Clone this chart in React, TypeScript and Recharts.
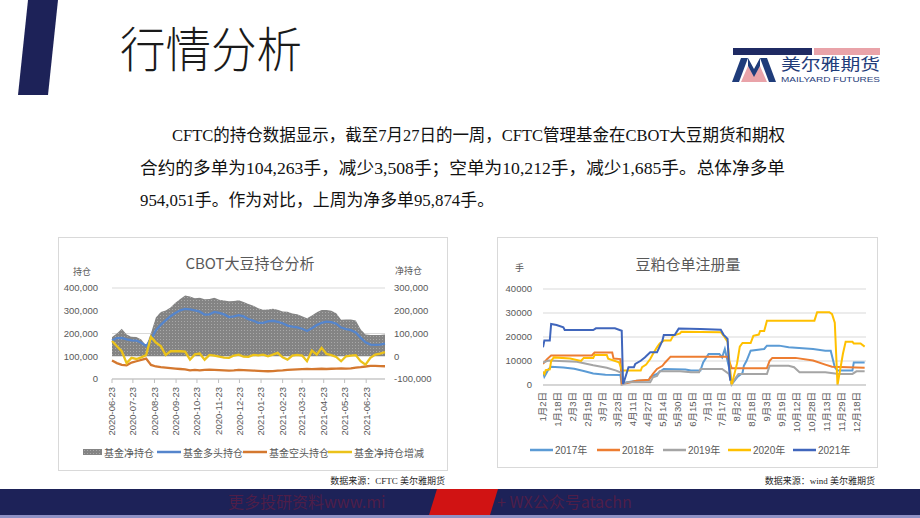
import React from "react";
import {
  ComposedChart,
  LineChart,
  Line,
  Area,
  XAxis,
  YAxis,
  CartesianGrid,
} from "recharts";

const CHART_FONT = '"Liberation Sans", "Noto Sans CJK SC", sans-serif';
const CJK_FONT = '"Noto Sans CJK SC", sans-serif';
const SERIF_FONT = '"Liberation Serif", "Noto Sans CJK SC", serif';
const AXIS_GRAY = "#595959";
const GRID = "#D9D9D9";
const NAVY = "#1D2258";

// ---- CBOT soybean positions (weekly, CFTC) ----
const weekDates = [
  "2020-06-23", "2020-06-30", "2020-07-07", "2020-07-14", "2020-07-21", "2020-07-28",
  "2020-08-04", "2020-08-11", "2020-08-18", "2020-08-25", "2020-09-01", "2020-09-08",
  "2020-09-15", "2020-09-22", "2020-09-29", "2020-10-06", "2020-10-13", "2020-10-20",
  "2020-10-27", "2020-11-03", "2020-11-10", "2020-11-17", "2020-11-24", "2020-12-01",
  "2020-12-08", "2020-12-15", "2020-12-22", "2020-12-29", "2021-01-05", "2021-01-12",
  "2021-01-19", "2021-01-26", "2021-02-02", "2021-02-09", "2021-02-16", "2021-02-23",
  "2021-03-02", "2021-03-09", "2021-03-16", "2021-03-23", "2021-03-30", "2021-04-06",
  "2021-04-13", "2021-04-20", "2021-04-27", "2021-05-04", "2021-05-11", "2021-05-18",
  "2021-05-25", "2021-06-01", "2021-06-08", "2021-06-15", "2021-06-22", "2021-06-29",
  "2021-07-06", "2021-07-13", "2021-07-20",
];

const netPosition = [
  85000, 100000, 121000, 96000, 86000, 85000, 74000, 46000, 102000, 170000,
  195000, 201000, 214000, 235000, 252000, 267000, 263000, 255000, 257000, 251000,
  252000, 257000, 248000, 245000, 242000, 243000, 246000, 238000, 230000, 222000,
  211000, 204000, 206000, 209000, 204000, 197000, 196000, 188000, 185000, 176000,
  167000, 179000, 193000, 203000, 203000, 200000, 189000, 160000, 161000, 162000,
  157000, 119000, 96000, 93000, 93000, 93000, 96000,
];

const longPosition = [
  169000, 180000, 181000, 174000, 170000, 169000, 159000, 145000, 172000, 214000,
  238000, 258000, 276000, 290000, 302000, 308000, 306000, 302000, 296000, 283000,
  284000, 295000, 291000, 284000, 272000, 275000, 281000, 275000, 263000, 256000,
  247000, 247000, 253000, 256000, 251000, 245000, 235000, 230000, 227000, 221000,
  211000, 223000, 237000, 247000, 252000, 250000, 243000, 226000, 219000, 215000,
  205000, 182000, 161000, 151000, 150000, 151000, 155000,
];

const shortPosition = [
  81000, 70000, 62000, 60000, 72000, 78000, 84000, 90000, 62000, 55000,
  52000, 50000, 48000, 46000, 44000, 42000, 38000, 40000, 38000, 40000,
  41000, 40000, 39000, 38000, 37000, 38000, 40000, 39000, 38000, 37000,
  36000, 35000, 34000, 35000, 37000, 38000, 40000, 41000, 42000, 43000,
  44000, 43000, 44000, 45000, 44000, 45000, 46000, 47000, 46000, 47000,
  50000, 52000, 55000, 58000, 58000, 57000, 56000,
];

const netChange = [
  67000, 44000, 22000, -30000, -7000, -12000, -5000, 5000, 85000, 60000,
  45000, 5000, 22000, 22000, 22000, 20000, -15000, 8000, 12000, -15000,
  6000, 3000, -2000, -6000, -7000, 3000, 7000, -2000, -3000, 6000,
  4000, 7000, 0, 7000, 15000, -5000, -15000, 3000, 6000, 3000,
  -22000, 25000, 7000, 37000, 10000, 5000, -3000, -22000, 0, 3000,
  5000, -22000, -37000, -7000, 7000, 12000, 18000,
];

const monthTickLabels = [
  "2020-06-23", "2020-07-23", "2020-08-23", "2020-09-23", "2020-10-23", "2020-11-23",
  "2020-12-23", "2021-01-23", "2021-02-23", "2021-03-23", "2021-04-23", "2021-05-23",
  "2021-06-23",
];
const monthTicks = monthTickLabels.map((d) => Date.parse(d));

const leftTicks = [0, 100000, 200000, 300000, 400000];
const rightTicks = [-100000, 0, 100000, 200000, 300000];

// ---- DCE soymeal warehouse receipts, [trading day, lots] ----
const receiptTickPos = [0, 11, 22, 33, 44, 55, 66, 77, 88, 99, 110, 121, 132, 143, 154, 165, 176, 187, 198, 209, 220, 231];
const receiptTickLabels = [
  "1月2日", "1月18日", "2月3日", "2月19日", "3月7日", "3月23日", "4月11日", "4月27日",
  "5月14日", "5月30日", "6月15日", "7月1日", "7月17日", "8月2日", "8月18日", "9月3日",
  "9月19日", "10月12日", "10月28日", "11月13日", "11月29日", "12月18日",
];

const rec2017 = [[0,5500],[1,3500],[4,6500],[6,7600],[15,7300],[23,6800],[30,5800],[37,4800],[46,4300],[57,4200],[58,300],[60,1000],[69,1800],[78,2000],[79,3200],[84,4600],[86,5500],[89,6700],[105,6500],[109,6000],[116,6000],[118,9400],[122,12900],[130,12900],[132,11500],[134,15000],[137,7500],[139,300],[143,3200],[147,5000],[148,8000],[150,10100],[153,14300],[163,15000],[165,16400],[174,16400],[181,15700],[199,15000],[208,14300],[212,14300],[215,7400],[217,6000],[228,6000],[229,9400],[237,9400]];
const rec2018 = [[0,8800],[3,10800],[6,12300],[36,12300],[38,13500],[51,13500],[52,11000],[57,10800],[58,300],[60,500],[69,1800],[78,2200],[81,4600],[84,6700],[88,8000],[90,9400],[94,11800],[136,11800],[139,7000],[165,7000],[167,10100],[169,11300],[186,11300],[199,10200],[208,8500],[213,7600],[237,7200]];
const rec2019 = [[0,9400],[4,10200],[12,10000],[25,9700],[37,8200],[47,7200],[54,6000],[58,5000],[59,300],[62,1100],[79,1100],[81,3200],[84,3800],[86,5700],[101,5700],[109,5300],[115,5300],[116,6700],[132,6700],[137,4600],[139,300],[142,3000],[144,4600],[165,4600],[167,8000],[181,8000],[185,7400],[189,5300],[208,5300],[218,4600],[228,4600],[231,5700],[237,5700]];
const rec2020 = [[0,5500],[1,4600],[2,6200],[5,6500],[6,10000],[8,11500],[20,11000],[28,10000],[30,11300],[37,11300],[38,12500],[47,12500],[48,11000],[56,9500],[58,6500],[59,6000],[72,6000],[73,7400],[76,8500],[79,10800],[81,12900],[84,15700],[86,17300],[89,18500],[94,18500],[96,20600],[101,21500],[102,22200],[131,22000],[133,20600],[136,18000],[139,0],[143,9000],[145,16000],[147,17500],[153,17500],[155,20500],[159,21000],[160,22500],[163,22500],[165,26800],[200,26800],[202,30300],[211,30300],[213,29500],[215,26000],[217,0],[221,13000],[223,18000],[228,18000],[229,17300],[234,17300],[237,16000]];
const rec2021 = [[0,15700],[1,18500],[5,18500],[6,25400],[10,25000],[15,24000],[16,22900],[37,22900],[39,23600],[53,23600],[58,22600],[59,300],[60,2000],[63,7400],[67,7400],[68,8800],[72,10100],[75,11500],[79,13600],[84,13600],[88,18500],[89,20800],[97,20800],[100,23500],[116,23300],[131,23000],[133,21000],[136,19200],[137,8700],[138,1800]];

const receiptSeries = [
  { name: "2017年", color: "#5B9BD5", pts: rec2017 },
  { name: "2018年", color: "#ED7D31", pts: rec2018 },
  { name: "2019年", color: "#A5A5A5", pts: rec2019 },
  { name: "2020年", color: "#FFC000", pts: rec2020 },
  { name: "2021年", color: "#4066BC", pts: rec2021 },
];

const leftSeriesColors = { net: "#8E8E8E", long: "#5585CC", short: "#D4782F", change: "#EBC21A" };

const leftData = weekDates.map((d, i) => ({
  t: Date.parse(d),
  net: netPosition[i],
  long: longPosition[i],
  short: shortPosition[i],
  change: netChange[i],
}));

const fmt = (v: number) => v.toLocaleString("en-US");

function VerticalTick(props: any) {
  const { x, y, payload, labelFor } = props;
  return (
    <text
      x={x}
      y={y}
      transform={`rotate(-90 ${x} ${y})`}
      textAnchor="end"
      dy="0.35em"
      fontSize={9.5}
      fill={AXIS_GRAY}
      fontFamily={CHART_FONT}
    >
      {labelFor(payload.value)}
    </text>
  );
}

function CotChart() {
  return (
    <ComposedChart
      width={389}
      height={233}
      data={leftData}
      margin={{ top: 51, right: 0, bottom: 31, left: 0 }}
    >
      <defs>
        <pattern id="netDots" width="3" height="3" patternUnits="userSpaceOnUse">
          <rect width="3" height="3" fill="#848484" />
          <rect width="1" height="1" fill="#A9A9A9" />
        </pattern>
      </defs>
      <CartesianGrid yAxisId="left" vertical={false} stroke={GRID} />
      <XAxis
        dataKey="t"
        type="number"
        domain={["dataMin", "dataMax"]}
        ticks={monthTicks}
        interval={0}
        height={60}
        stroke="#BFBFBF"
        tickSize={4}
        tickMargin={4}
        tick={(p: any) => (
          <VerticalTick {...p} labelFor={(v: number) => monthTickLabels[monthTicks.indexOf(v)]} />
        )}
      />
      <YAxis
        yAxisId="left"
        domain={[0, 400000]}
        ticks={leftTicks}
        width={54}
        axisLine={false}
        tickLine={false}
        tickSize={0}
        tickMargin={14}
        tickFormatter={fmt}
        tick={{ fontSize: 9.5, fill: AXIS_GRAY, fontFamily: CHART_FONT }}
      />
      <YAxis
        yAxisId="right"
        orientation="right"
        domain={[-100000, 300000]}
        ticks={rightTicks}
        width={62}
        axisLine={false}
        tickLine={false}
        tickSize={0}
        tickMargin={9}
        tickFormatter={fmt}
        tick={{ fontSize: 9.5, fill: AXIS_GRAY, fontFamily: CHART_FONT }}
      />
      <Area
        yAxisId="right"
        dataKey="net"
        type="linear"
        fill="url(#netDots)"
        fillOpacity={1}
        stroke="none"
        isAnimationActive={false}
      />
      <Line yAxisId="left" dataKey="long" type="linear" stroke={leftSeriesColors.long} strokeWidth={2.3} dot={false} isAnimationActive={false} />
      <Line yAxisId="left" dataKey="short" type="linear" stroke={leftSeriesColors.short} strokeWidth={2.3} dot={false} isAnimationActive={false} />
      <Line yAxisId="right" dataKey="change" type="linear" stroke={leftSeriesColors.change} strokeWidth={2.3} dot={false} isAnimationActive={false} />
    </ComposedChart>
  );
}

function ReceiptChart() {
  return (
    <LineChart width={380} height={230} margin={{ top: 52, right: 11, bottom: 0, left: 0 }}>
      <CartesianGrid vertical={false} stroke={GRID} />
      <XAxis
        dataKey="d"
        type="number"
        domain={[0, 238]}
        ticks={receiptTickPos}
        interval={0}
        allowDataOverflow
        height={82}
        stroke="#BFBFBF"
        tickLine={false}
        tickSize={0}
        tickMargin={7}
        tick={(p: any) => (
          <VerticalTick {...p} labelFor={(v: number) => receiptTickLabels[receiptTickPos.indexOf(v)]} />
        )}
      />
      <YAxis
        domain={[0, 40000]}
        ticks={[0, 10000, 20000, 30000, 40000]}
        width={46}
        axisLine={false}
        tickLine={false}
        tickSize={0}
        tickMargin={11}
        tick={{ fontSize: 9.5, fill: AXIS_GRAY, fontFamily: CHART_FONT }}
      />
      {receiptSeries.map((s) => (
        <Line
          key={s.name}
          data={s.pts.map(([d, v]) => ({ d, v }))}
          dataKey="v"
          name={s.name}
          type="linear"
          stroke={s.color}
          strokeWidth={2}
          dot={false}
          isAnimationActive={false}
        />
      ))}
    </LineChart>
  );
}

function Backdrop() {
  const leftLegend = [
    { x: 157, label: "基金多头持仓", color: leftSeriesColors.long },
    { x: 243, label: "基金空头持仓", color: leftSeriesColors.short },
    { x: 328, label: "基金净持仓增减", color: leftSeriesColors.change },
  ];
  const rightLegendX = [530, 597, 663, 728, 793];
  return (
    <svg width={920} height={518} style={{ position: "absolute", left: 0, top: 0 }}>
      <defs>
        <pattern id="legendDots" width="3" height="3" patternUnits="userSpaceOnUse">
          <rect width="3" height="3" fill="#848484" />
          <rect width="1" height="1" fill="#A9A9A9" />
        </pattern>
      </defs>
      <rect width={920} height={518} fill="#FFFFFF" />
      {/* header */}
      <polygon points="28,0 58,0 48,95 18,95" fill={NAVY} />
      <text x={120} y={67} fontSize={48} fontWeight={300} textLength={182} lengthAdjust="spacingAndGlyphs" fill="#1A1A1A" fontFamily={CJK_FONT}>
        行情分析
      </text>
      {/* logo */}
      <rect x={733} y={48} width={79} height={7} fill="#1F2A63" />
      <rect x={814} y={48} width={66} height={7} fill="#E9A3A9" />
      <polygon points="741,82 748,66 754,76 760,66 767,82" fill="#E9A3A9" />
      <polygon points="732,82 741,58 748,58 739,82" fill="#1F3C7A" />
      <polygon points="760,58 767,58 776,82 769,82" fill="#1F3C7A" />
      <polygon points="748,58 754,69 760,58 760,66 754,77 748,66" fill="#1F3C7A" />
      <text x={781} y={70} fontSize={16} textLength={99} lengthAdjust="spacingAndGlyphs" fill="#1F3C7A" fontFamily={CJK_FONT}>
        美尔雅期货
      </text>
      <text x={781} y={82} fontSize={8} textLength={99} lengthAdjust="spacingAndGlyphs" fill="#1F3C7A" fontFamily='"Liberation Sans", sans-serif'>
        MAILYARD FUTURES
      </text>
      {/* paragraph */}
      <g fontSize={17} fill="#111111" fontFamily={SERIF_FONT}>
        <text x={172} y={141} textLength={613} lengthAdjust="spacingAndGlyphs">
          CFTC的持仓数据显示，截至7月27日的一周，CFTC管理基金在CBOT大豆期货和期权
        </text>
        <text x={140} y={174} textLength={645} lengthAdjust="spacingAndGlyphs">
          合约的多单为104,263手，减少3,508手；空单为10,212手，减少1,685手。总体净多单
        </text>
        <text x={140} y={206} textLength={354} lengthAdjust="spacingAndGlyphs">
          954,051手。作为对比，上周为净多单95,874手。
        </text>
      </g>
      {/* chart frames */}
      <rect x={58.5} y={237.5} width={389} height={233} fill="none" stroke={GRID} />
      <rect x={497.5} y={237.5} width={380} height={230} fill="none" stroke={GRID} />
      {/* left chart texts */}
      <g fontFamily={CJK_FONT} fill={AXIS_GRAY}>
        <text x={250} y={262} fontSize={15} textAnchor="middle" dominantBaseline="central">CBOT大豆持仓分析</text>
        <text x={73} y={271} fontSize={9} dominantBaseline="central">持仓</text>
        <text x={395} y={270} fontSize={9} dominantBaseline="central">净持仓</text>
        <rect x={83} y={449} width={19} height={6} fill="url(#legendDots)" />
        <text x={104} y={452} fontSize={10} dominantBaseline="central">基金净持仓</text>
        {leftLegend.map((l) => (
          <g key={l.label}>
            <line x1={l.x} x2={l.x + 24} y1={452} y2={452} stroke={l.color} strokeWidth={2.5} />
            <text x={l.x + 26} y={452} fontSize={10} dominantBaseline="central">{l.label}</text>
          </g>
        ))}
      </g>
      {/* right chart texts */}
      <g fontFamily={CHART_FONT} fill={AXIS_GRAY}>
        <text x={688} y={263} fontSize={15} textAnchor="middle" dominantBaseline="central" fontFamily={CJK_FONT}>豆粕仓单注册量</text>
        <text x={515} y={267} fontSize={9} dominantBaseline="central" fontFamily={CJK_FONT}>手</text>
        {receiptSeries.map((s, i) => (
          <g key={s.name}>
            <line x1={rightLegendX[i]} x2={rightLegendX[i] + 23} y1={450} y2={450} stroke={s.color} strokeWidth={2.5} />
            <text x={rightLegendX[i] + 25} y={450} fontSize={10} dominantBaseline="central">{s.name}</text>
          </g>
        ))}
      </g>
      {/* sources */}
      <g fontSize={9} fill="#262626" fontFamily={SERIF_FONT}>
        <text x={445} y={484} textAnchor="end">数据来源：CFTC 美尔雅期货</text>
        <text x={875} y={484} textAnchor="end">数据来源：wind 美尔雅期货</text>
      </g>
      {/* footer band */}
      <rect x={0} y={489} width={920} height={26} fill={NAVY} />
      <rect x={0} y={515} width={920} height={3} fill="#8F91C4" />
      <text x={228} y={508} fontSize={16} fill="#4E1E48" fontFamily={CJK_FONT}>更多投研资料www.mi</text>
      <polygon points="437,489 498,489 490,515 429,515" fill="#D11313" />
      <text x={497} y={508} fontSize={16} fill="#4E1E48" fontFamily={CJK_FONT}>+ WX公众号atachn</text>
    </svg>
  );
}

export default function App() {
  return (
    <div style={{ position: "absolute", left: 0, top: 0, width: 920, height: 518, overflow: "hidden", background: "#fff" }}>
      <Backdrop />
      <div style={{ position: "absolute", left: 58, top: 237, width: 389, height: 233 }}>
        <CotChart />
      </div>
      <div style={{ position: "absolute", left: 497, top: 237, width: 380, height: 230 }}>
        <ReceiptChart />
      </div>
    </div>
  );
}
